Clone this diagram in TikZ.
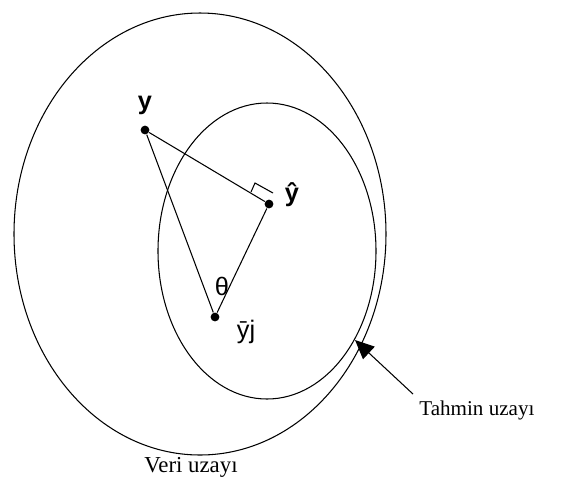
\documentclass[tikz,border=0pt]{standalone}
\usepackage{fontspec}
\setmainfont{Liberation Serif}
\setsansfont{Liberation Sans}
\usetikzlibrary{arrows.meta}

\begin{document}
\begin{tikzpicture}[x=0.02cm, y=-0.02cm, semithick,
    dot/.style={circle, fill, inner sep=0pt, minimum size=5pt},
    lbl/.style={font=\sffamily\Large}]
    \useasboundingbox (0, 0) rectangle (569, 485);
    % the two spaces
    \draw
        (200, 234) ellipse[x radius=186, y radius=221]
        (267, 251) ellipse[x radius=109, y radius=148];
    % the three points
    \node[dot] (y) at (145, 130) {};
    \node[dot] (yhat) at (269, 204) {};
    \node[dot] (ybar) at (215, 317) {};
    \draw (y) -- (yhat) -- (ybar) -- (y);
    % right angle at yhat
    \draw (251, 192) -- (255, 183) -- (273, 193);
    \path[lbl]
        (145, 105) node (ylbl) {\bfseries y}
        (292, 195) node (yhatlbl) {\bfseries \^{y}}
        (222, 286) node (theta) {θ}
        (246, 332) node (ybarlbl) {\={y}j};
    % labels of the spaces
    \node[font=\fontsize{13}{15}\selectfont] (veri) at (191, 467) {Veri uzayı};
    \node[font=\fontsize{12}{14}\selectfont, anchor=west] (tahmin) at (413, 410) {Tahmin uzayı};
    \coordinate (tip) at (355, 340);
    \draw[-{Triangle[length=0.38cm, width=0.34cm]}] (tahmin.north west) -- (tip);
\end{tikzpicture}
\end{document}
